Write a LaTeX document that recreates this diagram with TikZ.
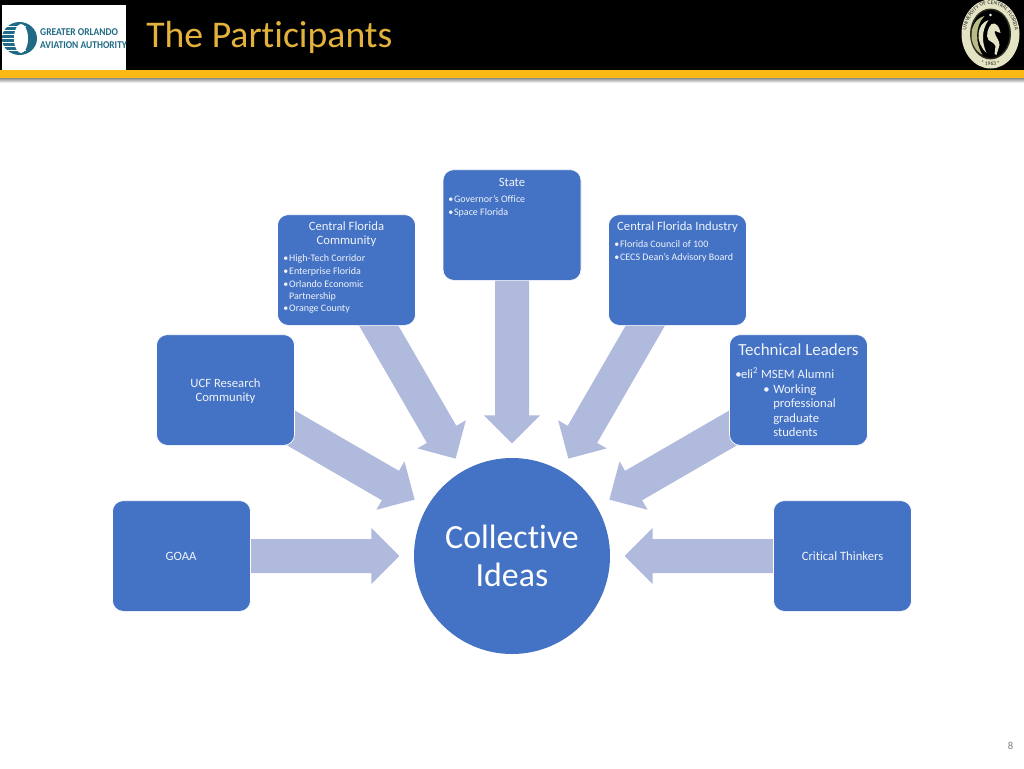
\documentclass[tikz,border=0pt]{standalone}
\usepackage{fontspec}
\setmainfont[Ligatures=NoCommon]{Carlito}
\usetikzlibrary{calc,decorations.text,shapes.geometric}
\definecolor{boxblue}{HTML}{4472C4}
\definecolor{spokeblue}{HTML}{B0BADD}
\definecolor{bargold}{HTML}{FDB913}
\definecolor{titlegold}{HTML}{E3B23C}
\definecolor{logoteal}{HTML}{1F6A85}
\definecolor{sealcream}{HTML}{E4E3C4}
\definecolor{sealgreen}{HTML}{B9BC85}
\tikzset{
  x=.75pt,y=-.75pt,
  cardbox/.style={draw=white,line width=.5pt,fill=boxblue,rounded corners=8pt,
    minimum width=103.5pt,minimum height=83pt,inner sep=0pt},
  spokeshape/.style={fill=spokeblue,draw=none},
  cardhead/.style={text=white!92!boxblue,align=center,inner sep=0pt,font=\fontsize{9.5}{10.5}\selectfont},
  cardlist/.style={text=white!92!boxblue,align=left,inner sep=0pt,anchor=north west,
    font=\fontsize{7.5}{9.5}\selectfont},
  techlist/.style={cardlist,font=\fontsize{9.5}{10.75}\selectfont},
}
\newcommand{\bul}{\makebox[4.4pt][l]{\textbullet}}
\newcommand{\spoke}[2]{%
  \coordinate (sptip) at ($(#2)!84.4pt!(#1)$);
  \coordinate (spneck) at ($(sptip)!21pt!(#1)$);
  \fill[spokeshape] ($(#1)!12.75pt!90:(#2)$) -- ($(spneck)!12.75pt!-90:(#1)$)
    -- ($(spneck)!21pt!-90:(#1)$) -- (sptip) -- ($(spneck)!21pt!90:(#1)$)
    -- ($(spneck)!12.75pt!90:(#1)$) -- ($(#1)!12.75pt!-90:(#2)$) -- cycle;}
\begin{document}
\begin{tikzpicture}
\useasboundingbox (0,0) rectangle (1024,768);
\fill[white] (0,0) rectangle (1024,768);
% header
\shade[top color=black!45,bottom color=white] (0,78) rectangle (1024,83);
\fill[black] (0,0) rectangle (1024,70);
\fill[bargold] (0,70) rectangle (1024,78);
\fill[white] (2,5) rectangle (126,70);
% airport logo
\fill[logoteal] (19.5,38.5) ellipse [x radius=17.5,y radius=16.5];
\fill[white] (21,38.5) ellipse [x radius=7,y radius=14.5];
\foreach \yy in {26,30,34,38,42,46,50}{
  \draw[white,line width=.55pt] (2,\yy+.5) -- (26,\yy+.5);}
\node[text=logoteal,font=\fontsize{7.8}{9.7}\bfseries\selectfont,anchor=west,inner sep=0pt,align=left,xscale=.91] (logotext) at (40,38.5)
  {GREATER ORLANDO\\AVIATION AUTHORITY};
\node[text=titlegold,font=\fontsize{28.3}{30}\selectfont,anchor=west,inner sep=0pt] (title) at (146,37) {The Participants};
% seal
\begin{scope}[shift={(990.5,34)},x=.75pt,y=.75pt]
  \fill[sealcream] (0,0) ellipse [x radius=29,y radius=34.5];
  \fill[black!75!sealgreen] (0,0) ellipse [x radius=20.5,y radius=25.5];
  \fill[black] (0,0) ellipse [x radius=19,y radius=24];
  \path[decorate,decoration={text along path,text align=center,
     text={|\fontsize{4.2}{5}\selectfont\color{black!85}|UNIVERSITY OF CENTRAL FLORIDA}}]
     (-24,-16) .. controls (-29,20) and (-10,30) .. (0,29.5) .. controls (12,29.5) and (29,18) .. (24,-16);
  \path[decorate,decoration={text along path,text align=center,
     text={|\fontsize{4.2}{5}\selectfont\color{black!85}|* 1963 *}}]
     (-16,-29) .. controls (-8,-32.5) and (8,-32.5) .. (16,-29);
  \fill[sealgreen] (-6,18) .. controls (-22,14) and (-24,-12) .. (-8,-21) .. controls (-15,-10) and (-16,8) .. (-6,18) -- cycle;
  \fill[sealcream] (-2,14) .. controls (-14,10) and (-16,-8) .. (-4,-19) .. controls (-9,-8) and (-9,4) .. (-2,14) -- cycle;
  \fill[sealcream] (1,10) .. controls (5,12) and (9,8) .. (10,1) -- (7,2) .. controls (5,3) and (4,4) .. (4,2)
     .. controls (5,-3) and (9,-6) .. (9,-11) -- (6,-21) -- (4,-20) -- (5,-12)
     .. controls (3,-8) and (0,-8) .. (-2,-6) .. controls (-5,-2) and (-3,6) .. (1,10) -- cycle;
  \fill[white] (0,19) circle [radius=1.4];
\end{scope}
% boxes and hub (coordinates for spokes first)
\coordinate (stateC) at (512,225);
\coordinate (cfcC) at (346.5,270);
\coordinate (cfiC) at (677.5,270);
\coordinate (ucfC) at (225.5,390);
\coordinate (techC) at (798.5,390);
\coordinate (goaaC) at (181.5,556);
\coordinate (critC) at (842.5,556);
\coordinate (hubC) at (512,556);
\spoke{stateC}{hubC}
\spoke{cfcC}{hubC}
\spoke{cfiC}{hubC}
\spoke{ucfC}{hubC}
\spoke{techC}{hubC}
\spoke{goaaC}{hubC}
\spoke{critC}{hubC}
\node[cardbox] (state) at (stateC) {};
\node[cardbox] (cfc) at (cfcC) {};
\node[cardbox] (cfi) at (cfiC) {};
\node[cardbox] (ucf) at (ucfC) {};
\node[cardbox] (tech) at (techC) {};
\node[cardbox] (goaa) at (goaaC) {};
\node[cardbox] (crit) at (critC) {};
\node[circle,fill=boxblue,minimum size=147pt,inner sep=0pt,text=white,align=center,
   font=\fontsize{25.4}{28.5}\selectfont] (hub) at (hubC) {Collective\\Ideas};
% box texts
\node[cardhead] (stateH) at (512,182) {State};
\node[cardlist] (stateL) at (448,195.5) {\bul Governor's Office\\\bul Space Florida};
\node[cardhead] (cfcH) at (346.5,234) {Central Florida\\Community};
\node[cardlist] (cfcL) at (283,254.5) {\bul High-Tech Corridor\\\bul Enterprise Florida\\\bul Orlando Economic\\[-.5pt]\hspace*{4.4pt}Partnership\\\bul Orange County};
\node[cardhead] (cfiH) at (677.5,227) {Central Florida Industry};
\node[cardlist] (cfiL) at (614,240.5) {\bul Florida Council of 100\\\bul CECS Dean's Advisory Board};
\node[cardhead,font=\fontsize{12.7}{13}\selectfont] (techH) at (798.5,350) {Technical Leaders};
\node[techlist] (techL) at (735,367.5) {\makebox[4.3pt][l]{\textbullet}eli\textsuperscript{2} MSEM Alumni};
\node[techlist] (techS) at (763,384.5) {\makebox[7.5pt][l]{\textbullet}Working\\\hspace*{7.5pt}professional\\\hspace*{7.5pt}graduate\\\hspace*{7.5pt}students};
\node[cardhead] (ucfT) at (225.5,391) {UCF Research\\Community};
\node[cardhead] (goaaT) at (181,556) {GOAA};
\node[cardhead] (critT) at (842.5,556) {Critical Thinkers};
\node[text=black!50,font=\fontsize{8}{9}\selectfont,inner sep=0pt] (pagenum) at (1010.5,745.5) {8};
\end{tikzpicture}
\end{document}
